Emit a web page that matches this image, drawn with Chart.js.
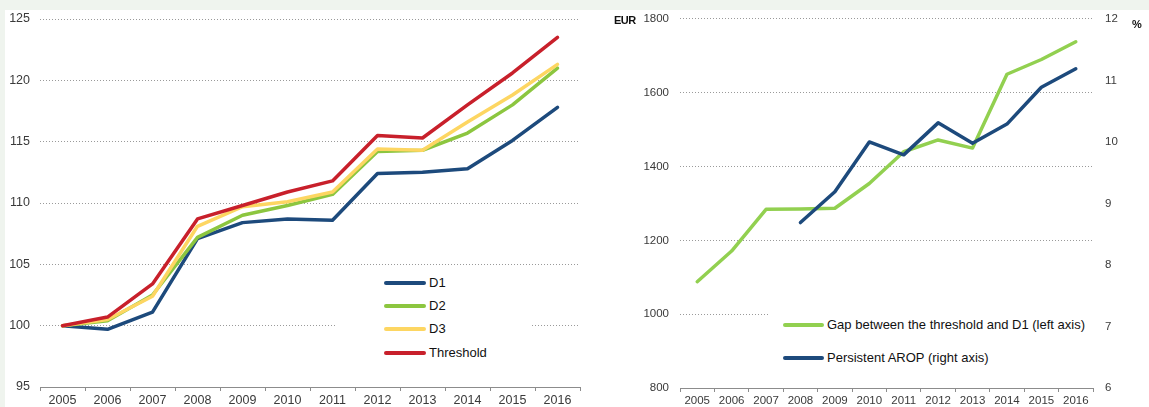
<!DOCTYPE html>
<html>
<head>
<meta charset="utf-8">
<script src="https://cdn.jsdelivr.net/npm/chart.js@4.4.1/dist/chart.umd.min.js"></script>
<style>
  body { margin: 0; background: #eff4ee; font-family: "Liberation Sans", Arial, sans-serif; }
  #wrap { position: relative; width: 1149px; height: 407px; overflow: hidden; }
  #panel { position: absolute; left: 5px; top: 10px; width: 1144px; height: 397px; background: #fff; }
  canvas { position: absolute; top: 0; }
  .legend { position: absolute; background: #fff; }
  .row { position: absolute; height: 16px; white-space: nowrap; font-size: 13px; color: #111; }
  .row .swatch { position: absolute; top: 6px; height: 4px; border-radius: 2px; }
  .row .txt { position: absolute; top: 0; line-height: 16px; }
  .unit { position: absolute; font-weight: bold; font-size: 11px; color: #111; letter-spacing: -0.5px; }
</style>
</head>
<body>
<div id="wrap">
  <div id="panel"></div>
  <canvas id="left" width="595" height="407" style="left:0"></canvas>
  <canvas id="right" width="554" height="407" style="left:595px"></canvas>
  <div class="unit" style="left:614px;top:14px">EUR</div>
  <div class="unit" style="left:1132px;top:18px">%</div>
  <div id="legLeft" class="legend" style="left:337px;top:270px;width:195px;height:98px"></div>
  <div id="legRight" class="legend" style="left:768px;top:306px;width:327px;height:66px"></div>
</div>
<script>
// data
const years = ['2005', '2006', '2007', '2008', '2009', '2010', '2011', '2012', '2013', '2014', '2015', '2016'];

// left panel: index 2005 = 100
const d1 = [100, 99.7, 101.1, 107.1, 108.4, 108.7, 108.6, 112.4, 112.5, 112.8, 115.1, 117.8];
const d2 = [100, 100.4, 102.5, 107.2, 109.0, 109.8, 110.7, 114.2, 114.3, 115.7, 118.0, 121.0];
const d3 = [100, 100.5, 102.4, 108.1, 109.7, 110.1, 110.9, 114.4, 114.3, 116.6, 118.8, 121.3];
const threshold = [100, 100.7, 103.4, 108.7, 109.8, 110.9, 111.8, 115.5, 115.3, 118.0, 120.6, 123.5];

// right panel
const gap = [1088, 1171, 1284, 1285, 1287, 1354, 1440, 1472, 1450, 1650, 1690, 1738];   // EUR
const arop = [null, null, null, 8.69, 9.19, 10.0, 9.79, 10.31, 9.98, 10.29, 10.89, 11.19]; // %

const FONT = '"Liberation Sans", Arial, sans-serif';
const TICK_COLOR = '#3a3a3a';
const GRID_COLOR = '#9a9a9a';
const AXIS_COLOR = '#8c8c8c';

function line(label, data, color, order, yAxisID) {
    return {
        label: label,
        data: data,
        borderColor: color,
        backgroundColor: color,
        borderWidth: 3.5,
        pointRadius: 0,
        pointHoverRadius: 0,
        tension: 0,
        borderJoinStyle: 'round',
        borderCapStyle: 'round',
        spanGaps: false,
        order: order,
        yAxisID: yAxisID || 'y'
    };
}

function xAxis(size, height) {
    return {
        type: 'category',
        offset: true,
        grid: { display: true, drawOnChartArea: false, drawTicks: true, tickLength: 4, color: AXIS_COLOR, offset: true },
        border: { display: true, color: AXIS_COLOR, width: 1 },
        ticks: { color: TICK_COLOR, font: { family: FONT, size: size }, padding: 2, autoSkip: false, maxRotation: 0, minRotation: 0 },
        afterFit: function (scale) { scale.height = height; }
    };
}

// plain numbers, no thousands separator
const plain = function (v) { return String(v); };

function renderLegend(el, chart, rows) {
    chart.data.datasets.forEach(function (ds, i) {
        const r = rows[i];
        const row = document.createElement('div');
        row.className = 'row';
        row.style.left = '0px';
        row.style.top = (r.y - 8) + 'px';
        const sw = document.createElement('span');
        sw.className = 'swatch';
        sw.style.left = r.sx + 'px';
        sw.style.width = r.sw + 'px';
        sw.style.background = ds.borderColor;
        const tx = document.createElement('span');
        tx.className = 'txt';
        tx.style.left = r.tx + 'px';
        tx.textContent = ds.label;
        row.appendChild(sw);
        row.appendChild(tx);
        el.appendChild(row);
    });
}

const leftChart = new Chart(document.getElementById('left'), {
    type: 'line',
    data: {
        labels: years,
        datasets: [
            line('D1', d1, '#1d4a7c', 3),
            line('D2', d2, '#8cc63f', 2),
            line('D3', d3, '#fdd662', 1),
            line('Threshold', threshold, '#c8202b', 0)
        ]
    },
    options: {
        responsive: false,
        animation: false,
        devicePixelRatio: 1,
        layout: { padding: { top: 19, right: 15, bottom: 0, left: 0 } },
        plugins: { legend: { display: false }, tooltip: { enabled: false } },
        scales: {
            x: xAxis(12.5, 20),
            y: {
                min: 95,
                max: 125,
                ticks: { stepSize: 5, color: TICK_COLOR, font: { family: FONT, size: 12.5 }, padding: 10, callback: plain },
                grid: { color: GRID_COLOR, drawTicks: false, lineWidth: 1 },
                border: { display: false, dash: [1, 2] },
                afterFit: function (scale) { scale.width = 40; }
            }
        }
    }
});

const rightChart = new Chart(document.getElementById('right'), {
    type: 'line',
    data: {
        labels: years,
        datasets: [
            line('Gap between the threshold and D1 (left axis)', gap, '#92d050', 1, 'y'),
            line('Persistent AROP (right axis)', arop, '#1d4a7c', 0, 'y1')
        ]
    },
    options: {
        responsive: false,
        animation: false,
        devicePixelRatio: 1,
        layout: { padding: { top: 16, right: 0, bottom: 0, left: 0 } },
        plugins: { legend: { display: false }, tooltip: { enabled: false } },
        scales: {
            x: xAxis(11.5, 19),
            y: {
                position: 'left',
                min: 800,
                max: 1800,
                ticks: { stepSize: 200, color: TICK_COLOR, font: { family: FONT, size: 11.5 }, padding: 11, callback: plain },
                grid: { color: GRID_COLOR, drawTicks: false, lineWidth: 1 },
                border: { display: false, dash: [1, 2] },
                afterFit: function (scale) { scale.width = 85; }
            },
            y1: {
                position: 'right',
                min: 6,
                max: 12,
                ticks: { stepSize: 1, color: TICK_COLOR, font: { family: FONT, size: 11.5 }, padding: 12, callback: plain },
                grid: { display: false, drawOnChartArea: false, drawTicks: false },
                border: { display: false },
                afterFit: function (scale) { scale.width = 56; }
            }
        }
    }
});

// legends, positions relative to their white boxes
renderLegend(document.getElementById('legLeft'), leftChart, [
    { y: 283 - 270, sx: 384 - 337, sw: 42, tx: 429 - 337 },
    { y: 306 - 270, sx: 384 - 337, sw: 42, tx: 429 - 337 },
    { y: 329 - 270, sx: 384 - 337, sw: 42, tx: 429 - 337 },
    { y: 353 - 270, sx: 384 - 337, sw: 42, tx: 429 - 337 }
]);
renderLegend(document.getElementById('legRight'), rightChart, [
    { y: 325 - 306, sx: 783 - 768, sw: 41, tx: 827 - 768 },
    { y: 358 - 306, sx: 783 - 768, sw: 41, tx: 827 - 768 }
]);
</script>
</body>
</html>
